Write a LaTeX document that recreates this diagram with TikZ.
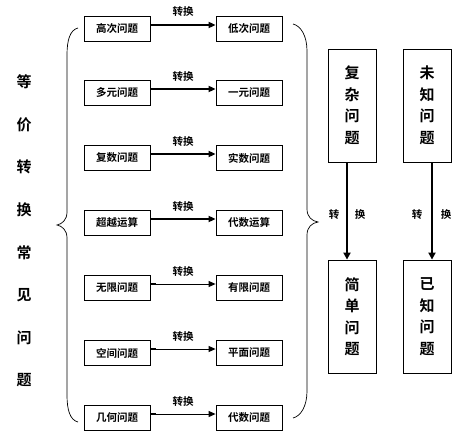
\documentclass[tikz,border=0pt]{standalone}
\usepackage{fontspec}
\setmainfont{Noto Sans CJK SC}[BoldFont={Noto Sans CJK SC Bold}]
\usetikzlibrary{arrows.meta}
\tikzset{
  lbox/.style={draw,line width=0.8pt,minimum width=66pt,minimum height=25pt,inner sep=0pt,font=\fontsize{10.5}{11}\selectfont\bfseries},
  tbox/.style={draw,line width=0.8pt,minimum width=48pt,minimum height=113pt,inner sep=0pt,align=center,font=\fontsize{15}{21.5}\selectfont\bfseries},
  lbl/.style={font=\fontsize{10.5}{11}\selectfont\bfseries,inner sep=0pt},
  vtxt/.style={font=\fontsize{15}{15}\selectfont\bfseries,inner sep=0pt},
  thickarr/.style={line width=2pt,-{Triangle[length=7pt,width=6pt]}},
  thinarr/.style={line width=0.9pt,-{Triangle[length=7pt,width=6pt]}},
  brace/.style={line width=0.7pt}
}
\begin{document}
\begin{tikzpicture}[x=1pt,y=-1pt]
\useasboundingbox (0,0) rectangle (460,438);
% left column boxes
\node[lbox] (L1) at (117,29) {高次问题};
\node[lbox] (R1) at (249,29) {低次问题};
\node[lbox] (L2) at (117,93) {多元问题};
\node[lbox] (R2) at (249,93) {一元问题};
\node[lbox] (L3) at (117,158) {复数问题};
\node[lbox] (R3) at (249,158) {实数问题};
\node[lbox] (L4) at (117,223) {超越运算};
\node[lbox] (R4) at (249,223) {代数运算};
\node[lbox] (L5) at (117,288) {无限问题};
\node[lbox] (R5) at (249,288) {有限问题};
\node[lbox] (L6) at (117,353) {空间问题};
\node[lbox] (R6) at (249,353) {平面问题};
\node[lbox] (L7) at (117,418) {几何问题};
\node[lbox] (R7) at (249,418) {代数问题};
% arrows
\foreach \i in {1,2,3,4}{
  \draw[thickarr] ([yshift=4pt]L\i.east) -- ([yshift=4pt]R\i.west)
    node[lbl,midway,above=7pt] {转换};
}
\foreach \i in {5,6,7}{
  \draw[line width=2pt] ([yshift=4pt]L\i.east) -- ++(6,0);
  \draw[thinarr] ([yshift=4pt]L\i.east) -- ([yshift=4pt]R\i.west)
    node[lbl,midway,above=7pt] {转换};
}
% vertical title
\foreach \t/\y in {等/82,价/125,转/167,换/210,常/253,见/295,问/338,题/380}{
  \node[vtxt] at (24,\y) {\t};
}
% left brace
\draw[brace] (78,28) .. controls (70,30) and (67,40) .. (67,55) -- (67,212)
  .. controls (67,220) and (62,224) .. (57,225)
  .. controls (62,226) and (67,230) .. (67,238) -- (67,395)
  .. controls (67,410) and (70,420) .. (78,422);
% right brace
\draw[brace] (293,24) .. controls (301,26) and (307,36) .. (307,51) -- (307,209)
  .. controls (307,217) and (312,221) .. (318,222)
  .. controls (312,223) and (307,227) .. (307,235) -- (307,391)
  .. controls (307,406) and (301,416) .. (293,418);
% tall boxes
\node[tbox] (C) at (352,105.5) {复\\杂\\问\\题};
\node[tbox] (U) at (427,105.5) {未\\知\\问\\题};
\node[tbox] (S) at (352,316.5) {简\\单\\问\\题};
\node[tbox] (K) at (427,316.5) {已\\知\\问\\题};
\draw[line width=2.5pt,-{Triangle[length=7pt,width=7pt]}] ([xshift=-5pt]C.south) -- ([xshift=-5pt]S.north);
\draw[line width=2.5pt,-{Triangle[length=7pt,width=7pt]}] ([xshift=5pt]U.south) -- ([xshift=5pt]K.north);
\node[lbl] (c1) at (334,215) {转};
\node[lbl] (c2) at (360,215) {换};
\node[lbl] (u1) at (417,215) {转};
\node[lbl] (u2) at (446,215) {换};
\end{tikzpicture}
\end{document}
